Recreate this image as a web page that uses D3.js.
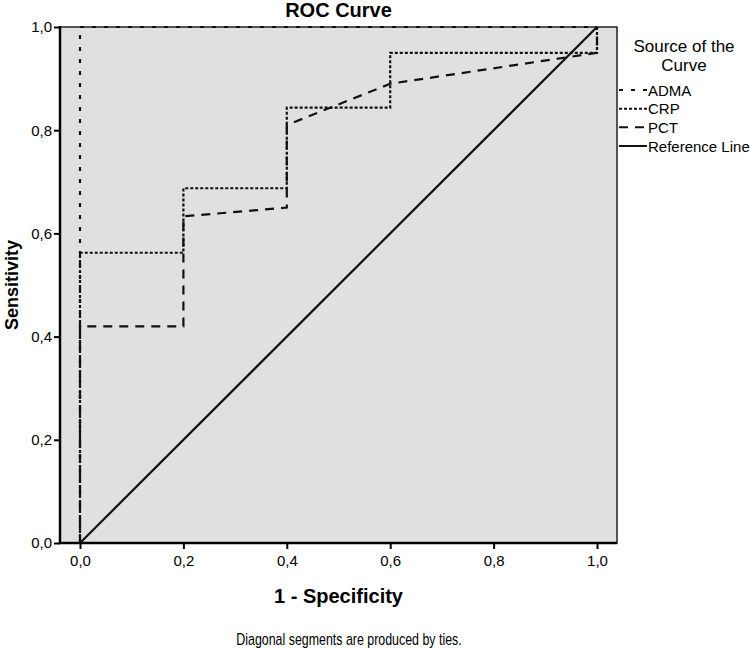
<!doctype html>
<meta charset="utf-8">
<title>ROC Curve</title>
<script src="https://cdn.jsdelivr.net/npm/d3@7"></script>
<style>
  body { margin: 0; background: #fff; }
  text { font-family: "Liberation Sans", Arial, sans-serif; fill: #000; }
</style>
<body>
<div id="chart"></div>
<script>
    // ROC points (1 - specificity, sensitivity)
    var admaX = [0, 0, 1]
        , admaY = [0, 1, 1];
    var crpX = [0, 0, 0.2, 0.2, 0.4, 0.4, 0.6, 0.6, 1, 1]
        , crpY = [0, 0.5625, 0.5625, 0.6875, 0.6875, 0.84375, 0.84375, 0.95, 0.95, 1];
    var pctX = [0, 0, 0.2, 0.2, 0.4, 0.4, 0.6, 1, 1]
        , pctY = [0, 0.42, 0.42, 0.633, 0.65, 0.81, 0.89, 0.95, 1];
    var refX = [0, 1]
        , refY = [0, 1];
    var seriesNames = ['ADMA', 'CRP', 'PCT', 'Reference Line'];
    var tickValues = [0, 0.2, 0.4, 0.6, 0.8, 1.0];

    var width = 750, height = 649
        , plotL = 60, plotR = 617, plotT = 27, plotB = 543
        , pad = 20;

    var svg = d3.select('#chart').append('svg')
            .attr('width', width)
            .attr('height', height);

    var x = d3.scaleLinear().domain([0, 1]).range([plotL + pad, plotR - pad]);
    var y = d3.scaleLinear().domain([0, 1]).range([plotB, plotT]);

    // plot background
    svg.append('rect')
            .attr('x', plotL).attr('y', plotT)
            .attr('width', plotR - plotL).attr('height', plotB - plotT)
            .attr('fill', '#e0e0e0')
            .attr('stroke', '#222')
            .attr('stroke-width', 1.5);

    function fmt(d) { return d3.format('.1f')(d).replace('.', ','); }

    var yAxis = svg.append('g')
            .attr('transform', 'translate(' + plotL + ',0)')
            .call(d3.axisLeft(y).tickValues(tickValues).tickFormat(fmt).tickSize(6).tickPadding(2));
    var xAxis = svg.append('g')
            .attr('transform', 'translate(0,' + plotB + ')')
            .call(d3.axisBottom(x).tickValues(tickValues).tickFormat(fmt).tickSize(6).tickPadding(6));

    [yAxis, xAxis].forEach(function(g) {
        g.attr('font-size', null).attr('font-family', null);
        g.select('.domain').remove();
        g.selectAll('.tick line').attr('stroke', '#000').attr('stroke-width', 2);
        g.selectAll('.tick text')
                .style('font-size', '15px')
                .attr('fill', '#000');
    });

    // heavy left and bottom axis lines
    svg.append('line').attr('x1', plotL).attr('x2', plotL).attr('y1', plotT - 1).attr('y2', plotB + 1)
            .attr('stroke', '#000').attr('stroke-width', 2.5);
    svg.append('line').attr('x1', plotL - 1).attr('x2', plotR).attr('y1', plotB).attr('y2', plotB)
            .attr('stroke', '#000').attr('stroke-width', 2.5);

    var styles = {
        'ADMA': { dash: '4,8', xs: admaX, ys: admaY },
        'CRP': { dash: '3,2', xs: crpX, ys: crpY },
        'PCT': { dash: '9,7', xs: pctX, ys: pctY },
        'Reference Line': { dash: null, xs: refX, ys: refY }
    };

    var line = d3.line()
            .x(function(d) { return x(d[0]); })
            .y(function(d) { return y(d[1]); });

    ['Reference Line', 'PCT', 'CRP', 'ADMA'].forEach(function(name) {
        var s = styles[name];
        var pts = s.xs.map(function(v, i) { return [v, s.ys[i]]; });
        svg.append('path')
                .datum(pts)
                .attr('d', line)
                .attr('fill', 'none')
                .attr('stroke', '#111')
                .attr('stroke-width', 2.2)
                .attr('stroke-dasharray', s.dash);
    });

    // titles
    svg.append('text')
            .attr('x', (plotL + plotR) / 2).attr('y', 17)
            .attr('text-anchor', 'middle')
            .style('font-size', '20px').style('font-weight', 'bold')
            .text('ROC Curve');

    svg.append('text')
            .attr('transform', 'translate(18,' + ((plotT + plotB) / 2) + ') rotate(-90)')
            .attr('text-anchor', 'middle')
            .style('font-size', '18px').style('font-weight', 'bold')
            .text('Sensitivity');

    svg.append('text')
            .attr('x', (plotL + plotR) / 2).attr('y', 603)
            .attr('text-anchor', 'middle')
            .style('font-size', '20px').style('font-weight', 'bold')
            .text('1 - Specificity');

    svg.append('text')
            .attr('transform', 'translate(349,645) scale(0.73,1)')
            .attr('text-anchor', 'middle')
            .style('font-size', '17px')
            .text('Diagonal segments are produced by ties.');

    // legend
    var legend = svg.append('g');
    legend.append('text')
            .attr('x', 684).attr('y', 52)
            .attr('text-anchor', 'middle')
            .style('font-size', '17px')
            .text('Source of the');
    legend.append('text')
            .attr('x', 684).attr('y', 71)
            .attr('text-anchor', 'middle')
            .style('font-size', '17px')
            .text('Curve');

    var legendY = d3.scalePoint().domain(seriesNames).range([90, 146]);
    seriesNames.forEach(function(name) {
        var ly = legendY(name);
        legend.append('line')
                .attr('x1', 619).attr('x2', 647)
                .attr('y1', ly).attr('y2', ly)
                .attr('stroke', '#111')
                .attr('stroke-width', 2)
                .attr('stroke-dasharray', styles[name].dash);
        legend.append('text')
                .attr('x', 648).attr('y', ly + 5.5)
                .style('font-size', '15px')
                .text(name);
    });
</script>
</body>
